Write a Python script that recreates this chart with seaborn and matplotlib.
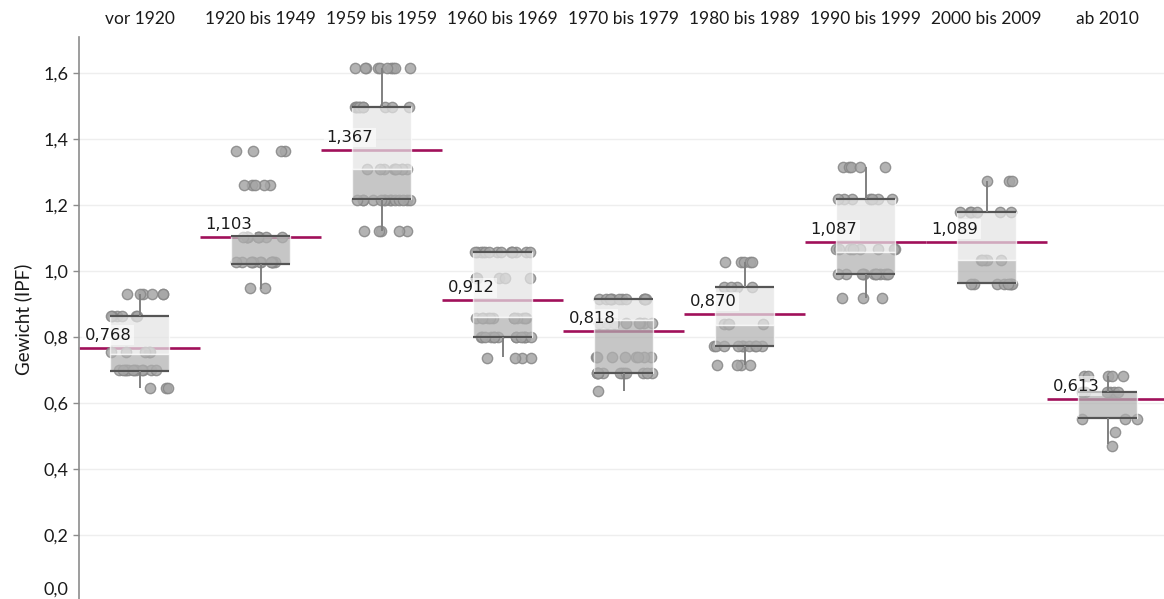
import numpy as np
import pandas as pd
import matplotlib
matplotlib.use("Agg")
import matplotlib.pyplot as plt
import matplotlib.transforms as mtransforms
import seaborn as sns

# categories (Baujahr)
categories = ["vor 1920", "1920 bis 1949", "1959 bis 1959", "1960 bis 1969",
              "1970 bis 1979", "1980 bis 1989", "1990 bis 1999", "2000 bis 2009",
              "ab 2010"]

# single weights per group
vor_1920 = [0.93, 0.93, 0.93, 0.93, 0.93, 0.93,
            0.864, 0.864, 0.864, 0.864, 0.864, 0.864,
            0.755, 0.755, 0.755, 0.755, 0.755,
            0.70, 0.70, 0.70, 0.70, 0.70, 0.70, 0.70, 0.70, 0.70, 0.70, 0.70, 0.70,
            0.645, 0.645, 0.645]
bis_1949 = [1.364, 1.364, 1.364, 1.364,
            1.261, 1.261, 1.261, 1.261, 1.261,
            1.103, 1.103, 1.103, 1.103, 1.103, 1.103, 1.103, 1.103, 1.103, 1.103,
            1.027, 1.027, 1.027, 1.027, 1.027, 1.027, 1.027, 1.027, 1.027, 1.027, 1.027, 1.027,
            0.948, 0.948]
bis_1959 = [1.615, 1.615, 1.615, 1.615, 1.615, 1.615, 1.615, 1.615, 1.615, 1.615,
            1.497, 1.497, 1.497, 1.497, 1.497, 1.497, 1.497, 1.497, 1.497, 1.497,
            1.309, 1.309, 1.309, 1.309, 1.309, 1.309, 1.309, 1.309, 1.309,
            1.215, 1.215, 1.215, 1.215, 1.215, 1.215, 1.215, 1.215, 1.215, 1.215, 1.215, 1.215, 1.215, 1.215,
            1.12, 1.12, 1.12, 1.12, 1.12]
bis_1969 = [1.057, 1.057, 1.057, 1.057, 1.057, 1.057, 1.057, 1.057, 1.057, 1.057, 1.057, 1.057, 1.057, 1.057,
            0.979, 0.979, 0.979, 0.979, 0.979, 0.979,
            0.858, 0.858, 0.858, 0.858, 0.858, 0.858, 0.858, 0.858, 0.858, 0.858, 0.858, 0.858,
            0.80, 0.80, 0.80, 0.80, 0.80, 0.80, 0.80, 0.80, 0.80, 0.80, 0.80, 0.80, 0.80, 0.80,
            0.737, 0.737, 0.737, 0.737]
bis_1979 = [0.915, 0.915, 0.915, 0.915, 0.915, 0.915, 0.915, 0.915, 0.915, 0.915, 0.915, 0.915,
            0.843, 0.843, 0.843, 0.843, 0.843, 0.843, 0.843, 0.843,
            0.739, 0.739, 0.739, 0.739, 0.739, 0.739, 0.739, 0.739,
            0.69, 0.69, 0.69, 0.69, 0.69, 0.69, 0.69, 0.69, 0.69, 0.69, 0.69, 0.69,
            0.635]
bis_1989 = [1.027, 1.027, 1.027, 1.027, 1.027,
            0.952, 0.952, 0.952, 0.952,
            0.839, 0.839, 0.839, 0.839,
            0.772, 0.772, 0.772, 0.772, 0.772, 0.772, 0.772, 0.772, 0.772, 0.772,
            0.714, 0.714, 0.714, 0.714]
bis_1999 = [1.316, 1.316, 1.316, 1.316, 1.316,
            1.217, 1.217, 1.217, 1.217, 1.217, 1.217, 1.217,
            1.067, 1.067, 1.067, 1.067, 1.067, 1.067, 1.067, 1.067,
            0.991, 0.991, 0.991, 0.991, 0.991, 0.991, 0.991, 0.991, 0.991, 0.991, 0.991, 0.991,
            0.918, 0.918, 0.918]
bis_2009 = [1.274, 1.274, 1.274,
            1.179, 1.179, 1.179, 1.179, 1.179, 1.179,
            1.033, 1.033, 1.033, 1.033, 1.033,
            0.962, 0.962, 0.962, 0.962, 0.962, 0.962, 0.962, 0.962]
ab_2010 = [0.682, 0.682, 0.682, 0.682, 0.682,
           0.633, 0.633, 0.633, 0.633, 0.633, 0.633,
           0.553, 0.553, 0.553,
           0.512,
           0.47]

# box statistics as drawn
q1 = [0.697, 1.022, 1.219, 0.801, 0.692, 0.774, 0.991, 0.964, 0.554]
median = [0.748, 1.106, 1.309, 0.862, 0.850, 0.835, 1.058, 1.033, 0.633]
q3 = [0.864, 1.106, 1.497, 1.057, 0.915, 0.950, 1.218, 1.179, 0.633]
whisker_low = [0.645, 0.946, 1.122, 0.738, 0.637, 0.716, 0.918, 0.964, 0.475]
whisker_high = [0.93, 1.106, 1.615, 1.057, 0.915, 1.027, 1.316, 1.274, 0.682]
means = [0.768, 1.103, 1.367, 0.912, 0.818, 0.870, 1.087, 1.089, 0.613]
mean_labels = ["0,768", "1,103", "1,367", "0,912", "0,818", "0,870", "1,087", "1,089", "0,613"]

yticks = [0.0, 0.2, 0.4, 0.6, 0.8, 1.0, 1.2, 1.4, 1.6]
ytick_labels = ["0,0", "0,2", "0,4", "0,6", "0,8", "1,0", "1,2", "1,4", "1,6"]

groups = [vor_1920, bis_1949, bis_1959, bis_1969, bis_1979, bis_1989, bis_1999, bis_2009, ab_2010]
df = pd.concat([pd.DataFrame({"Baujahr": c, "Gewicht": g}) for c, g in zip(categories, groups)],
               ignore_index=True)

sns.set_style("white")
plt.rcParams["font.family"] = ["Lato", "DejaVu Sans"]

fig = plt.figure(figsize=(11.64, 5.99), dpi=100)
ax = fig.add_axes([79 / 1164, -2 / 599, 1089 / 1164, 564 / 599])

x = np.arange(len(categories))
box_w = 0.49
magenta = "#a0105a"

for yv in yticks:
    ax.axhline(yv, color="#eeeeee", lw=1, zorder=0)

# mean lines
ax.hlines(means, x - 0.5, x + 0.5, color=magenta, lw=1.9, zorder=1)

np.random.seed(3)
sns.stripplot(data=df, x="Baujahr", y="Gewicht", order=categories, ax=ax,
              jitter=0.25, size=7.4, color="#a6a6a6", edgecolor="#878787",
              linewidth=1.0, alpha=0.85, zorder=2)

# two-tone boxes drawn over points
ax.bar(x, np.array(q3) - np.array(median), bottom=median, width=box_w,
       color="#e4e4e4", alpha=0.72, zorder=3)
ax.bar(x, np.array(median) - np.array(q1), bottom=q1, width=box_w,
       color="#b0b0b0", alpha=0.72, zorder=3)
ax.hlines(q3, x - box_w / 2, x + box_w / 2, color="#555555", lw=1.6, zorder=4)
ax.hlines(q1, x - box_w / 2, x + box_w / 2, color="#555555", lw=1.6, zorder=4)
ax.vlines(x, q3, whisker_high, color="#808080", lw=1.4, zorder=4)
ax.vlines(x, whisker_low, q1, color="#808080", lw=1.4, zorder=4)

for i, (m, lab) in enumerate(zip(means, mean_labels)):
    ax.annotate(lab, xy=(i - 0.5, m), xytext=(4, 3.5), textcoords="offset points",
                ha="left", va="bottom", fontsize=11.8, family="DejaVu Sans",
                color="#1a1a1a", zorder=5,
                bbox=dict(boxstyle="square,pad=0.15", fc="white", ec="none", alpha=0.6))

ax.set_xlim(-0.5, len(categories) - 0.5)
ax.set_ylim(0, 1.709)
ax.set_yticks(yticks)
ax.set_yticklabels(ytick_labels)
ax.xaxis.tick_top()
ax.tick_params(axis="x", length=0, pad=7, labelsize=12.5, colors="#1a1a1a")
ax.tick_params(axis="y", left=True, length=4.5, width=1, color="#8c8c8c",
               pad=3, labelsize=13, labelcolor="#1a1a1a")
# bottom label sits at the figure edge; lift it a little so it stays readable
zero_lab = ax.get_yticklabels()[0]
zero_lab.set_transform(zero_lab.get_transform() +
                       mtransforms.ScaledTranslation(0, 9 / 72, fig.dpi_scale_trans))
ax.set_xlabel("")
ax.set_ylabel("Gewicht (IPF)", fontsize=13.5, color="#1a1a1a", labelpad=8)
for s in ["top", "right", "bottom"]:
    ax.spines[s].set_visible(False)
ax.spines["left"].set_color("#8c8c8c")
ax.spines["left"].set_linewidth(1.2)

fig.savefig("out.png", dpi=100)
